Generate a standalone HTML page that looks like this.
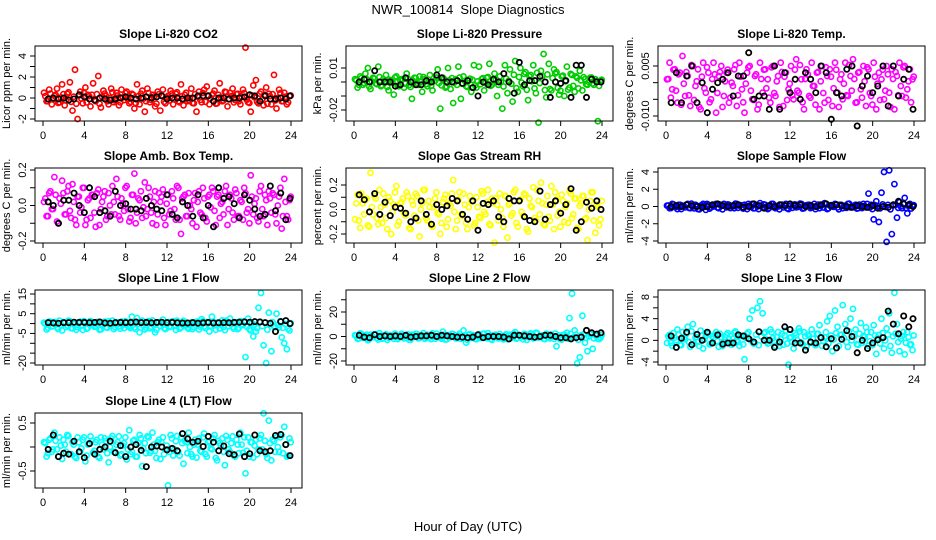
<!DOCTYPE html>
<html><head><meta charset="utf-8"><title>NWR_100814 Slope Diagnostics</title>
<style>
html,body{margin:0;padding:0;background:#fff;}
svg{display:block;font-family:"Liberation Sans",Arial,sans-serif;}
</style></head>
<body>
<svg id="chart" width="936" height="540" viewBox="0 0 936 540" xmlns="http://www.w3.org/2000/svg">
<text x="468" y="14" text-anchor="middle" font-size="13">NWR_100814&#160; Slope Diagnostics</text>
<text x="468" y="531" text-anchor="middle" font-size="13">Hour of Day (UTC)</text>
</svg>
<script>
// shared hour categories
const hoursC = [0.1,0.35,0.6,0.85,1.1,1.35,1.6,1.85,2.1,2.35,2.6,2.85,3.1,3.35,3.6,3.85,4.1,4.35,4.6,4.85,
5.1,5.35,5.6,5.85,6.1,6.35,6.6,6.85,7.1,7.35,7.6,7.85,8.1,8.35,8.6,8.85,9.1,9.35,9.6,9.85,
10.1,10.35,10.6,10.85,11.1,11.35,11.6,11.85,12.1,12.35,12.6,12.85,13.1,13.35,13.6,13.85,14.1,14.35,14.6,14.85,
15.1,15.35,15.6,15.85,16.1,16.35,16.6,16.85,17.1,17.35,17.6,17.85,18.1,18.35,18.6,18.85,19.1,19.35,19.6,19.85,
20.1,20.35,20.6,20.85,21.1,21.35,21.6,21.85,22.1,22.35,22.6,22.85,23.1,23.35,23.6,23.85];
const hoursB = [0.22,0.47,0.72,0.97,1.22,1.47,1.72,1.97,2.22,2.47,2.72,2.97,3.22,3.47,3.72,3.97,4.22,4.47,4.72,4.97,
5.22,5.47,5.72,5.97,6.22,6.47,6.72,6.97,7.22,7.47,7.72,7.97,8.22,8.47,8.72,8.97,9.22,9.47,9.72,9.97,
10.22,10.47,10.72,10.97,11.22,11.47,11.72,11.97,12.22,12.47,12.72,12.97,13.22,13.47,13.72,13.97,14.22,14.47,14.72,14.97,
15.22,15.47,15.72,15.97,16.22,16.47,16.72,16.97,17.22,17.47,17.72,17.97,18.22,18.47,18.72,18.97,19.22,19.47,19.72,19.97,
20.22,20.47,20.72,20.97,21.22,21.47,21.72,21.97,22.22,22.47,22.72,22.97,23.22,23.47,23.72,23.97];
const hoursK = [0.5,1,1.5,2,2.5,3,3.5,4,4.5,5,5.5,6,6.5,7,7.5,8,8.5,9,9.5,10,10.5,11,11.5,12,
12.5,13,13.5,14,14.5,15,15.5,16,16.5,17,17.5,18,18.5,19,19.5,20,20.5,21,21.5,22,22.5,23,23.5,23.9];
const xTicks = [0,4,8,12,16,20,24];

// Li-820 CO2
const co2Vals = [0.5,-0.3,0.8,-0.6,0.2,0.9,-0.4,1.3,-0.7,0.4,1.5,-1.2,2.7,-2.0,0.6,-0.5,1.0,0.3,-0.8,1.4,
-0.3,2.1,-0.9,0.7,0.2,-0.6,0.9,-0.4,0.5,-0.7,0.8,-0.2,0.6,-0.5,0.4,-1.0,1.3,-0.6,0.7,-1.3,
0.9,-0.4,0.3,-0.8,0.6,-1.2,0.8,-0.5,0.2,0.7,-0.6,0.4,-0.3,1.3,-0.7,0.5,-0.2,0.9,-0.5,-1.3,
0.6,-0.4,0.8,1.1,-0.6,0.3,0.7,-0.5,1.4,-0.3,0.6,-0.8,0.5,0.9,-0.2,0.4,-0.6,0.8,4.8,-0.4,
-1.3,1.2,1.7,-0.5,0.6,-0.7,1.0,0.4,-0.6,2.2,-1.0,0.8,-0.3,0.5,-0.6,0.2];
const co2Core = [0.18,-0.3,0.42,-0.12,0.3,-0.48,0.06,0.36,-0.24,0.54,-0.36,0.12,-0.54,0.24,-0.06,0.48,-0.42,0.18,0.3,-0.18,
0.36,-0.54,0.12,0.42,-0.3,0,0.54,-0.24,0.24,-0.42,0.06,0.48,-0.12,-0.36,0.3,-0.48,0.18,0.42,-0.06,-0.3,
0.48,-0.18,0.12,-0.54,0.36,0.24,-0.36,0.06,-0.24,0.42,-0.12,0.54,-0.42,0.18,0.3,-0.3,0,-0.48,0.36,0.12,
-0.18,0.48,-0.36,0.24,-0.06,0.42,-0.54,0.3,0.06,-0.24,0.54,-0.12,0.18,-0.42,0.36,-0.3,0.12,0.48,-0.18,-0.48,
0.24,0.06,-0.36,0.42,-0.12,0.3,-0.54,0.18,0.36,-0.24,0,0.48,-0.3,0.12,-0.42,0.24];
const co2Black = [-0.1,0.0,-0.1,0.0,-0.2,-0.1,0.3,0.1,
-0.1,-0.2,0.0,-0.1,-0.2,-0.1,0.0,0.1,
0.0,-0.1,0.0,0.1,0.0,0.1,0.2,-0.1,
0.0,0.0,-0.1,0.0,0.0,0.2,0.2,0.2,
-0.3,0.0,0.0,-0.1,0.0,0.0,0.1,0.3,
0.2,-0.3,0.2,-0.1,-0.1,0.0,-0.1,0.2];
const co2Ticks = [-2,-1,0,1,2,3,4];
const co2Labels = ["-2","","0","","2","","4"];

// Li-820 Pressure
const presVals = [0.002,-0.004,0.004,-0.002,0.006,0.010,-0.005,0.003,-0.001,0.011,-0.003,0.002,0.005,-0.006,0.001,-0.009,0.004,-0.003,0.002,-0.004,
0.006,-0.002,-0.012,0.003,-0.001,0.004,-0.007,0.002,-0.003,0.005,-0.006,0.001,0.009,-0.019,0.003,-0.004,0.010,-0.005,-0.015,0.002,
0.011,-0.012,0.004,-0.003,0.001,-0.007,0.012,-0.004,0.011,0.002,-0.006,0.003,0.013,-0.002,0.006,-0.010,0.004,-0.019,0.012,-0.008,
0.009,-0.014,0.015,-0.007,0.010,-0.003,0.007,-0.013,0.005,0.012,-0.008,-0.029,0.008,0.020,-0.011,0.013,-0.006,0.009,0.007,-0.009,
0.004,-0.010,0.011,-0.004,0.005,-0.007,0.003,0.008,-0.006,0.002,-0.002,0.003,-0.001,0.002,-0.028,0.001];
const presCore = [0.0012,-0.002,0.0028,-0.0008,0.002,-0.0032,0.0004,0.0024,-0.0016,0.0036,-0.0024,0.0008,-0.0036,0.0016,-0.0004,0.0032,-0.0028,0.0012,0.002,-0.0012,
0.0024,-0.0036,0.0008,0.0028,-0.002,0,0.0036,-0.0016,0.0016,-0.0028,0.0004,0.0032,-0.0008,-0.0024,0.002,-0.0032,0.0012,0.0028,-0.0004,-0.002,
0.0032,-0.0012,0.0008,-0.0036,0.0024,0.0016,-0.0024,0.0004,-0.0016,0.0028,-0.0008,0.0036,-0.0028,0.0012,0.002,-0.002,0,-0.0032,0.0024,0.0008,
-0.0012,0.0052,-0.0044,0.0036,-0.0004,0.0058,-0.0056,0.004,0.0004,-0.0046,0.0066,-0.0008,0.0042,-0.0058,0.0054,-0.005,0.0028,0.0062,-0.0042,-0.0062,
0.0046,0.0004,-0.0054,0.0058,-0.0028,0.004,-0.0046,0.0012,0.0034,-0.0016,0,0.0032,-0.002,0.0008,-0.0028,0.0016];
const presBlack = [0.000,0.002,0.000,0.008,0.000,0.000,0.000,-0.003,
-0.002,0.003,0.000,-0.002,-0.002,0.001,0.000,0.005,
0.003,0.000,0.000,0.001,-0.001,0.001,-0.004,-0.010,
0.000,-0.002,0.002,0.000,0.006,0.000,-0.008,0.014,
-0.002,0.001,0.001,0.004,0.000,-0.011,0.000,-0.001,
0.001,-0.011,0.012,0.012,-0.011,0.002,0.000,0.000];
const presTicks = [-0.02,-0.01,0,0.01];
const presLabels = ["-0.02","","","0.01"];

// Li-820 Temp
const tempVals = [0.001,0.006,-0.002,0.004,-0.006,0.003,0.008,-0.004,0.002,-0.007,0.005,-0.001,0.004,-0.008,0.006,-0.003,0.003,-0.005,0.006,-0.009,
0.002,0.005,-0.004,0.003,-0.006,0.000,0.004,-0.007,0.006,-0.002,-0.009,0.003,0.005,-0.005,0.002,-0.008,0.006,-0.003,0.004,0.001,
-0.006,0.005,-0.004,0.002,0.006,-0.007,0.003,-0.002,0.005,-0.005,0.007,-0.003,0.001,-0.008,0.004,-0.004,0.006,-0.001,0.003,-0.008,
0.005,-0.006,0.002,0.004,-0.007,0.006,-0.003,0.001,-0.005,0.006,-0.004,0.002,0.007,-0.006,0.003,-0.002,0.005,-0.007,0.004,-0.004,
0.006,-0.008,0.003,0.001,-0.005,0.005,-0.003,0.004,-0.008,0.002,0.006,-0.004,0.005,-0.002,0.004,0.001];
const tempCore = [0.0011,-0.0045,0.0039,-0.0024,0.0025,-0.0066,-0.0003,0.0032,-0.0038,0.0053,-0.0052,0.0004,-0.0073,0.0018,-0.0017,0.0046,-0.0059,0.0011,0.0025,-0.0031,
0.0032,-0.0073,0.0004,0.0039,-0.0045,-0.001,0.0053,-0.0038,0.0018,-0.0059,-0.0003,0.0046,-0.0024,-0.0052,0.0025,-0.0066,0.0011,0.0039,-0.0017,-0.0045,
0.0046,-0.0031,0.0004,-0.0073,0.0032,0.0018,-0.0052,-0.0003,-0.0038,0.0039,-0.0024,0.0053,-0.0059,0.0011,0.0025,-0.0045,-0.001,-0.0066,0.0032,0.0004,
-0.0031,0.0046,-0.0052,0.0018,-0.0017,0.0039,-0.0073,0.0025,-0.0003,-0.0038,0.0053,-0.0024,0.0011,-0.0059,0.0032,-0.0045,0.0004,0.0046,-0.0031,-0.0066,
0.0018,-0.0003,-0.0052,0.0039,-0.0024,0.0025,-0.0073,0.0011,0.0032,-0.0038,-0.001,0.0046,-0.0045,0.0004,-0.0059,0.0018];
const tempBlack = [-0.006,0.003,-0.006,0.002,0.005,-0.006,0.000,-0.009,
-0.002,0.000,0.001,0.003,-0.004,0.002,0.002,0.009,
-0.005,-0.004,-0.004,-0.008,0.005,-0.008,0.003,-0.003,
0.001,-0.005,0.003,0.001,-0.003,0.005,0.003,-0.011,
-0.003,-0.004,0.004,0.005,-0.013,-0.001,0.002,-0.003,
-0.001,0.005,-0.007,0.005,-0.004,0.001,0.004,-0.008];
const tempTicks = [-0.010,-0.005,0,0.005];
const tempLabels = ["-0.010","","","0.005"];

// Amb. Box Temp
const ambVals = [0.02,-0.06,0.07,-0.02,0.16,-0.09,0.04,0.14,-0.05,0.08,-0.03,0.12,-0.08,0.05,-0.04,0.10,-0.11,0.03,-0.07,0.06,
-0.12,0.09,-0.02,0.05,-0.08,0.07,-0.05,0.02,0.15,-0.06,0.04,-0.03,0.11,-0.09,0.06,0.18,-0.04,0.03,-0.07,0.13,
-0.02,0.05,-0.10,0.08,-0.05,0.02,0.09,-0.11,0.06,-0.03,0.04,-0.08,0.10,-0.16,0.05,-0.06,0.07,-0.02,0.03,-0.12,
0.08,-0.05,0.04,-0.09,0.06,0.10,-0.03,0.05,-0.07,0.02,0.08,-0.11,0.06,-0.04,0.09,-0.06,0.03,-0.08,0.07,-0.02,
0.17,-0.05,0.04,-0.09,0.11,-0.06,0.03,0.08,-0.04,0.06,-0.10,0.05,-0.13,0.15,-0.06,0.03];
const ambCore = [0.04,-0.06,0.08,-0.02,0.06,-0.1,0.01,0.07,-0.05,0.11,-0.07,0.02,-0.11,0.05,-0.01,0.1,-0.08,0.04,0.06,-0.04,
0.07,-0.11,0.02,0.08,-0.06,0,0.11,-0.05,0.05,-0.08,0.01,0.1,-0.02,-0.07,0.06,-0.1,0.04,0.08,-0.01,-0.06,
0.1,-0.04,0.02,-0.11,0.07,0.05,-0.07,0.01,-0.05,0.08,-0.02,0.11,-0.08,0.04,0.06,-0.06,0,-0.1,0.07,0.02,
-0.04,0.1,-0.07,0.05,-0.01,0.08,-0.11,0.06,0.01,-0.05,0.11,-0.02,0.04,-0.08,0.07,-0.06,0.02,0.1,-0.04,-0.1,
0.05,0.01,-0.07,0.08,-0.02,0.06,-0.11,0.04,0.07,-0.05,0,0.1,-0.06,0.02,-0.08,0.05];
const ambBlack = [0.02,0.00,-0.10,0.03,0.03,0.07,0.00,-0.04,
0.10,0.05,-0.04,-0.03,-0.06,0.08,0.00,0.01,
-0.02,-0.02,-0.03,0.04,0.00,-0.02,-0.03,0.06,
-0.05,-0.07,0.02,0.00,-0.06,0.06,-0.07,0.00,
-0.12,0.10,0.04,0.05,0.01,-0.07,0.06,0.03,
-0.02,-0.06,-0.05,0.11,-0.03,0.07,-0.08,0.04];
const ambTicks = [-0.2,-0.1,0,0.1,0.2];
const ambLabels = ["-0.2","","0.0","","0.2"];

// Gas Stream RH
const rhVals = [-0.08,0.12,-0.15,0.05,0.08,-0.13,0.30,-0.04,0.09,-0.12,0.02,0.13,-0.07,0.10,-0.20,0.04,0.19,-0.10,0.06,-0.03,
0.14,-0.15,0.07,-0.05,0.11,-0.22,0.05,0.16,-0.09,0.02,-0.14,0.09,-0.03,-0.20,0.06,0.12,-0.08,0.03,0.24,-0.16,
0.08,-0.04,0.13,-0.11,0.02,0.07,-0.13,0.10,-0.06,0.15,-0.02,0.06,-0.12,0.09,-0.27,0.04,0.13,-0.07,0.11,-0.23,
0.05,-0.03,0.16,-0.14,0.08,-0.05,0.12,-0.18,0.03,0.18,-0.09,0.07,0.22,-0.12,0.04,-0.06,0.19,-0.16,0.08,-0.02,
0.12,-0.10,0.05,0.15,-0.07,0.09,-0.15,0.03,0.11,-0.08,-0.25,0.07,0.14,-0.19,0.02,-0.08];
const rhCore = [0.05,-0.09,0.13,-0.04,0.09,-0.14,0.02,0.11,-0.07,0.16,-0.11,0.04,-0.16,0.07,-0.02,0.14,-0.13,0.05,0.09,-0.05,
0.11,-0.16,0.04,0.13,-0.09,0,0.16,-0.07,0.07,-0.13,0.02,0.14,-0.04,-0.11,0.09,-0.14,0.05,0.13,-0.02,-0.09,
0.14,-0.05,0.04,-0.16,0.11,0.07,-0.11,0.02,-0.07,0.13,-0.04,0.16,-0.13,0.05,0.09,-0.09,0,-0.14,0.11,0.04,
-0.05,0.14,-0.11,0.07,-0.02,0.13,-0.16,0.09,0.02,-0.07,0.16,-0.04,0.05,-0.13,0.11,-0.09,0.04,0.14,-0.05,-0.14,
0.07,0.02,-0.11,0.13,-0.04,0.09,-0.16,0.05,0.11,-0.07,0,0.14,-0.09,0.04,-0.13,0.07];
const rhBlack = [0.12,0.08,-0.02,0.13,-0.04,0.06,-0.05,0.02,
0.01,-0.03,-0.10,-0.07,0.07,-0.04,-0.12,0.04,
0.00,0.03,0.09,0.07,-0.04,-0.08,0.07,-0.17,
0.05,0.04,0.07,-0.06,-0.10,0.09,0.07,0.07,
-0.06,-0.09,-0.10,0.15,-0.08,0.04,0.07,-0.03,
0.04,0.17,-0.17,-0.10,0.06,0.01,0.07,0.00];
const rhTicks = [-0.2,-0.1,0,0.1,0.2];
const rhLabels = ["-0.2","","0.0","","0.2"];

// Sample Flow
const sfVals = [0.1,-0.2,0.3,0.0,-0.3,0.2,0.1,-0.1,0.3,-0.2,0.0,0.2,-0.3,0.1,0.3,-0.4,0.2,-0.1,0.0,0.3,
-0.2,0.1,0.3,-0.1,0.2,0.0,-0.2,0.3,0.1,-0.1,0.2,-0.3,0.1,0.3,-0.2,0.0,0.4,-0.1,0.2,-0.3,
0.1,0.3,-0.2,0.0,0.2,-0.1,0.3,-0.3,0.1,0.2,-0.1,0.0,0.3,-0.2,0.1,0.2,-0.1,0.3,0.0,-0.2,
0.2,0.4,-0.3,0.1,0.0,0.3,-0.1,0.2,-0.2,0.1,0.3,-0.1,0.0,0.2,-0.2,0.1,0.3,-0.1,1.5,0.2,
-1.5,0.6,-1.8,1.6,4.0,-4.1,4.2,-3.2,2.6,-1.3,0.5,-0.2,1.0,-0.8,0.3,0.1];
const sfCore = [0.12,-0.18,0.24,-0.06,0.18,-0.3,0.03,0.21,-0.15,0.33,-0.21,0.06,-0.33,0.15,-0.03,0.3,-0.24,0.12,0.18,-0.12,
0.21,-0.33,0.06,0.24,-0.18,0,0.33,-0.15,0.15,-0.24,0.03,0.3,-0.06,-0.21,0.18,-0.3,0.12,0.24,-0.03,-0.18,
0.3,-0.12,0.06,-0.33,0.21,0.15,-0.21,0.03,-0.15,0.24,-0.06,0.33,-0.24,0.12,0.18,-0.18,0,-0.3,0.21,0.06,
-0.12,0.3,-0.21,0.15,-0.03,0.24,-0.33,0.18,0.03,-0.15,0.33,-0.06,0.12,-0.24,0.21,-0.18,0.06,0.3,-0.12,-0.3,
0.15,0.03,-0.21,0.24,-0.06,0.18,-0.33,0.12,0.21,-0.15,0,0.3,-0.18,0.06,-0.24,0.15];
const sfBlack = [0.0,0.1,0.0,0.2,0.1,0.0,-0.1,0.0,
0.2,0.3,0.1,0.0,0.1,0.2,-0.1,0.0,
0.3,0.1,-0.2,0.1,0.0,0.2,0.1,0.3,
0.1,0.2,0.0,0.1,0.0,0.2,0.3,0.1,
0.2,0.1,0.0,-0.1,0.1,0.0,-0.1,0.1,
-0.2,0.0,-0.1,0.2,0.6,0.3,0.2,0.0];
const sfTicks = [-4,-2,0,2,4];
const sfLabels = ["-4","-2","0","2","4"];

// Line 1 Flow
const l1Vals = [0.5,-3.0,1.0,-1.5,0.8,-2.0,1.5,-3.5,0.2,-1.0,1.2,-2.5,0.6,-1.8,1.0,-3.2,0.4,-2.2,1.3,-0.8,
-1.5,0.9,-3.0,0.5,-2.0,1.1,-0.6,-2.8,0.7,-1.4,1.0,-2.3,0.3,-1.7,3.5,-2.0,2.8,-4.5,1.5,-3.0,
0.9,-2.4,1.6,-4.5,0.5,-1.2,2.0,-2.8,0.8,-1.5,1.2,-3.2,0.4,-2.0,1.4,-0.9,-2.6,0.6,-1.8,1.0,
-3.0,2.2,-1.5,0.8,-4.0,3.5,-1.0,0.5,-2.5,1.6,-3.3,0.9,2.5,-1.8,0.6,-2.8,1.2,-0.8,-17.0,2.5,
-3.5,-6.5,-4.0,8.0,15.5,-11.0,-20.0,5.5,-14.0,-1.5,5.0,-2.0,-7.0,-10.0,-13.0,-3.5];
const l1Core = [-0.1,-2.1,1.0,-1.3,0.5,-2.8,-0.6,0.7,-1.8,1.5,-2.3,-0.3,-3.1,0.2,-1.1,1.2,-2.6,-0.1,0.5,-1.6,
0.7,-3.1,-0.3,1.0,-2.1,-0.8,1.5,-1.8,0.2,-2.6,-0.6,1.2,-1.3,-2.3,0.5,-2.8,-0.1,1.0,-1.1,-2.1,
1.2,-1.6,-0.3,-3.1,0.7,0.2,-2.3,-0.6,-1.8,1.0,-1.3,1.5,-2.6,-0.1,0.5,-2.1,-0.8,-2.8,0.7,-0.3,
-1.6,1.2,-2.3,0.2,-1.1,1.0,-3.1,0.5,-0.6,-1.8,1.5,-1.3,-0.1,-2.6,0.7,-2.1,-0.3,1.2,-1.6,-2.8,
0.2,-0.6,-2.3,1.0,-1.3,0.5,-3.1,-0.1,0.7,-1.8,-0.8,1.2,-2.1,-0.3,-2.6,0.2];
const l1Black = [0.5,0.3,0.2,0.5,0.5,0.7,0.6,0.6,
0.5,0.6,0.8,0.3,0.2,0.5,0.6,0.5,
0.6,0.8,0.5,0.6,0.4,0.6,0.7,0.5,
0.6,0.4,0.3,0.3,0.5,0.2,0.4,0.6,
0.3,0.4,0.5,0.4,0.6,0.7,0.8,0.7,
1.0,0.8,0.5,0.2,-4.0,1.0,1.5,0.0];
const l1Ticks = [-20,-15,-10,-5,0,5,10,15];
const l1Labels = ["-20","","","-5","","5","","15"];

// Line 2 Flow
const l2Vals = [1.0,-2.0,2.5,-1.0,0.5,-3.0,1.5,-0.5,2.0,-2.5,0.8,-1.5,1.8,-1.0,0.3,-2.0,1.2,-0.8,2.2,-1.5,
0.6,-2.8,1.5,-0.3,2.0,-1.2,0.9,-2.0,1.4,-0.7,2.5,-1.8,0.4,-1.0,4.0,-2.5,1.2,-0.5,2.0,-1.5,
0.8,-2.0,5.0,-5.0,1.6,-1.0,0.5,-2.2,1.8,-0.6,2.4,-1.4,0.7,-2.8,1.2,-0.4,2.0,-1.6,0.9,-2.2,
1.5,-0.8,3.5,-1.2,0.6,-2.4,1.8,-0.5,2.5,-1.5,3.0,-0.9,0.4,-1.8,2.2,-0.6,1.6,-2.0,-8.0,0.9,
-2.5,1.5,3.0,15.0,35.0,5.0,-22.0,-17.0,17.0,-5.0,-12.0,2.0,-10.0,1.0,-2.0,-1.0];
const l2Core = [0.9,-1.5,2.1,-0.6,1.5,-2.4,0.3,1.8,-1.2,2.7,-1.8,0.6,-2.7,1.2,-0.3,2.4,-2.1,0.9,1.5,-0.9,
1.8,-2.7,0.6,2.1,-1.5,0,2.7,-1.2,1.2,-2.1,0.3,2.4,-0.6,-1.8,1.5,-2.4,0.9,2.1,-0.3,-1.5,
2.4,-0.9,0.6,-2.7,1.8,1.2,-1.8,0.3,-1.2,2.1,-0.6,2.7,-2.1,0.9,1.5,-1.5,0,-2.4,1.8,0.6,
-0.9,2.4,-1.8,1.2,-0.3,2.1,-2.7,1.5,0.3,-1.2,2.7,-0.6,0.9,-2.1,1.8,-1.5,0.6,2.4,-0.9,-2.4,
1.2,0.3,-1.8,2.1,-0.6,1.5,-2.7,0.9,1.8,-1.2,0,2.4,-1.5,0.6,-2.1,1.2];
const l2Black = [1.0,-0.5,-1.0,1.5,0.0,0.5,0.0,0.5,
0.0,1.0,-0.5,0.0,0.5,0.5,1.0,0.0,
1.0,0.5,0.0,-0.5,-0.5,-1.0,-0.5,1.5,
-1.0,0.0,0.0,0.0,-0.5,-2.0,1.0,1.0,
0.5,0.0,-0.5,0.0,1.0,1.0,0.0,-1.0,
-1.0,-2.0,-1.0,-0.5,5.0,3.0,2.0,3.0];
const l2Ticks = [-20,-10,0,10,20,30];
const l2Labels = ["-20","","0","","20",""];

// Line 3 Flow
const l3Vals = [-0.5,1.0,-1.0,0.5,2.0,-0.8,1.5,0.2,2.5,-1.2,3.0,0.5,-0.3,1.8,-1.5,0.8,1.2,-0.6,0.4,1.5,
-1.2,0.6,-0.4,1.0,0.2,-0.8,1.4,0.0,-1.0,0.8,-3.5,1.2,4.0,5.5,-0.5,6.0,7.2,5.0,1.5,-0.6,
2.0,0.4,-1.0,1.5,0.2,-0.8,1.8,-4.5,0.6,-1.5,1.0,2.2,-0.4,1.5,-1.2,0.8,2.0,-0.6,1.2,2.8,
-1.0,0.5,3.5,4.5,-2.0,5.5,2.5,1.0,6.5,3.0,-1.2,4.0,5.8,2.0,-0.8,3.2,0.8,2.4,-1.0,1.5,
2.8,-2.5,1.0,4.0,-1.5,2.2,5.0,-2.3,8.8,3.0,-2.0,0.8,-2.6,1.5,-0.8,-1.8];
const l3Core = [0.75,-0.45,1.35,0,1.05,-0.9,0.45,1.2,-0.3,1.65,-0.6,0.6,-1.05,0.9,0.15,1.5,-0.75,0.75,1.05,-0.15,
1.2,-1.05,0.6,1.35,-0.45,0.3,1.65,-0.3,0.9,-0.75,0.45,1.5,0,-0.6,1.05,-0.9,0.75,1.35,0.15,-0.45,
1.5,-0.15,0.6,-1.05,1.2,0.9,-0.6,0.45,-0.3,1.35,0,1.65,-0.75,0.75,1.05,-0.45,0.3,-0.9,1.2,0.6,
-0.15,1.5,-0.6,0.9,0.15,1.35,-1.05,1.05,0.45,-0.3,1.65,0,0.75,-0.75,1.2,-0.45,0.6,1.5,-0.15,-0.9,
0.9,0.45,-0.6,1.35,0,1.05,-1.05,0.75,1.2,-0.3,0.3,1.5,-0.45,0.6,-0.75,0.9];
const l3Black = [0.8,-1.3,0.4,1.5,-0.8,1.1,0.0,1.5,
-0.5,1.0,-0.7,-0.5,-0.5,1.0,0.8,0.3,
-0.3,1.6,0.0,0.0,-1.3,-0.3,2.5,2.0,
-0.5,-0.5,-1.8,-0.3,-0.5,0.5,-1.2,0.3,
-1.4,0.2,1.8,0.7,-2.3,0.0,-1.5,-0.5,
0.1,0.5,5.4,3.0,1.2,4.5,2.5,4.0];
const l3Ticks = [-4,-2,0,2,4,6,8];
const l3Labels = ["-4","","0","","4","","8"];

// Line 4 (LT) Flow
const l4Vals = [0.1,-0.2,0.15,-0.1,0.3,-0.05,0.2,-0.25,0.05,0.25,-0.15,0.1,-0.2,0.2,-0.1,0.15,-0.3,0.05,0.22,-0.12,
0.1,-0.2,0.2,-0.05,0.12,-0.32,0.18,-0.1,0.05,0.22,-0.15,0.08,-0.26,0.35,-0.1,0.15,-0.2,0.25,-0.4,0.08,
0.22,-0.12,0.3,-0.08,0.1,-0.25,0.2,-0.05,-0.8,0.25,-0.18,0.12,-0.1,0.2,-0.35,0.1,0.3,-0.15,0.05,-0.22,
0.18,-0.1,0.28,-0.2,0.12,-0.05,0.25,-0.28,0.08,0.18,-0.38,0.15,-0.1,0.22,-0.2,0.05,0.3,-0.12,-0.55,0.2,
0.1,-0.22,0.15,-0.05,0.25,0.7,-0.15,0.55,-0.28,0.12,0.2,-0.1,0.25,0.42,-0.2,0.18];
const l4Core = [0.08,-0.13,0.18,-0.05,0.13,-0.2,0.03,0.15,-0.1,0.23,-0.15,0.05,-0.23,0.1,-0.03,0.2,-0.18,0.08,0.13,-0.08,
0.15,-0.23,0.05,0.18,-0.13,0,0.23,-0.1,0.1,-0.18,0.03,0.2,-0.05,-0.15,0.13,-0.2,0.08,0.18,-0.03,-0.13,
0.2,-0.08,0.05,-0.23,0.15,0.1,-0.15,0.03,-0.1,0.18,-0.05,0.23,-0.18,0.08,0.13,-0.13,0,-0.2,0.15,0.05,
-0.08,0.2,-0.15,0.1,-0.03,0.18,-0.23,0.13,0.03,-0.1,0.23,-0.05,0.08,-0.18,0.15,-0.13,0.05,0.2,-0.08,-0.2,
0.1,0.03,-0.15,0.18,-0.05,0.13,-0.23,0.08,0.15,-0.1,0,0.2,-0.13,0.05,-0.18,0.1];
const l4Black = [-0.05,0.25,-0.2,-0.13,-0.15,0.12,-0.1,-0.22,
0.07,-0.15,-0.05,0.0,0.12,-0.12,0.03,-0.2,
0.0,0.05,-0.07,-0.41,0.0,0.02,0.0,-0.06,
-0.03,-0.08,0.28,0.17,0.1,0.12,0.01,0.22,
0.1,-0.08,0.02,-0.14,-0.16,0.27,-0.2,-0.14,
0.25,-0.08,-0.1,-0.08,0.24,0.26,0.05,-0.18];
const l4Ticks = [-0.5,0,0.5];
const l4Labels = ["-0.5","","0.5"];

const colLeft = [35, 346, 658];
const rowTop = [46, 168, 290, 413];
const BOX_W = 267, BOX_H = 75;

const panels = [
 {name:"co2", title:"Slope Li-820 CO2", ylab:"Licor ppm per min.", c:0, r:0, color:"#ff0000", vals:co2Vals, core:co2Core, blk:co2Black, ticks:co2Ticks, labels:co2Labels, v1:4, p1:56, v2:-2, p2:119},
 {name:"pressure", title:"Slope Li-820 Pressure", ylab:"kPa per min.", c:1, r:0, color:"#00cd00", vals:presVals, core:presCore, blk:presBlack, ticks:presTicks, labels:presLabels, v1:0.01, p1:68, v2:-0.02, p2:110},
 {name:"temp", title:"Slope Li-820 Temp.", ylab:"degrees C per min.", c:2, r:0, color:"#ff00ff", vals:tempVals, core:tempCore, blk:tempBlack, ticks:tempTicks, labels:tempLabels, v1:0.005, p1:66, v2:-0.010, p2:116},
 {name:"amb-box-temp", title:"Slope Amb. Box Temp.", ylab:"degrees C per min.", c:0, r:1, color:"#ff00ff", vals:ambVals, core:ambCore, blk:ambBlack, ticks:ambTicks, labels:ambLabels, v1:0.2, p1:170, v2:-0.2, p2:241},
 {name:"gas-rh", title:"Slope Gas Stream RH", ylab:"percent per min.", c:1, r:1, color:"#ffff00", vals:rhVals, core:rhCore, blk:rhBlack, ticks:rhTicks, labels:rhLabels, v1:0.2, p1:185, v2:-0.2, p2:234},
 {name:"sample-flow", title:"Slope Sample Flow", ylab:"ml/min per min.", c:2, r:1, color:"#0000ff", vals:sfVals, core:sfCore, blk:sfBlack, ticks:sfTicks, labels:sfLabels, v1:4, p1:172, v2:-4, p2:241},
 {name:"line1-flow", title:"Slope Line 1 Flow", ylab:"ml/min per min.", c:0, r:2, color:"#00ffff", vals:l1Vals, core:l1Core, blk:l1Black, ticks:l1Ticks, labels:l1Labels, v1:15, p1:294, v2:-20, p2:363},
 {name:"line2-flow", title:"Slope Line 2 Flow", ylab:"ml/min per min.", c:1, r:2, color:"#00ffff", vals:l2Vals, core:l2Core, blk:l2Black, ticks:l2Ticks, labels:l2Labels, v1:20, p1:312, v2:-20, p2:361},
 {name:"line3-flow", title:"Slope Line 3 Flow", ylab:"ml/min per min.", c:2, r:2, color:"#00ffff", vals:l3Vals, core:l3Core, blk:l3Black, ticks:l3Ticks, labels:l3Labels, v1:8, p1:297, v2:-4, p2:362},
 {name:"line4-flow", title:"Slope Line 4 (LT) Flow", ylab:"ml/min per min.", c:0, r:3, color:"#00ffff", vals:l4Vals, core:l4Core, blk:l4Black, ticks:l4Ticks, labels:l4Labels, v1:0.5, p1:423, v2:-0.5, p2:471}
];

const NS = "http://www.w3.org/2000/svg";
const svg = document.getElementById("chart");
function mk(tag, attrs, parent){
  const e = document.createElementNS(NS, tag);
  for (const k in attrs) e.setAttribute(k, attrs[k]);
  (parent||svg).appendChild(e);
  return e;
}

panels.forEach(p => {
  const L = colLeft[p.c], T = rowTop[p.r], R = L + BOX_W, B = T + BOX_H;
  const x0 = L + 8, x1 = R - 11;
  const xs = h => x0 + (h / 24) * (x1 - x0);
  const ys = v => p.p1 + (v - p.v1) * (p.p2 - p.p1) / (p.v2 - p.v1);

  const g = mk("g", {});
  
  

  const t = mk("text", {x:(L+R)/2, y:T-8, "text-anchor":"middle", "font-size":"12", "font-weight":"bold"}, g);
  t.textContent = p.title;
  
  

  const pts = mk("g", {}, g);
  
  
  const nc = Math.min(p.core.length, hoursB.length);
  for (let i = 0; i < nc; i++) {
    const c = mk("circle", {cx:xs(hoursB[i]).toFixed(1), cy:ys(p.core[i]).toFixed(1), r:2.6, fill:"none", stroke:p.color, "stroke-width":1.6}, pts);
    
    
  }
  const n = Math.min(p.vals.length, hoursC.length);
  for (let i = 0; i < n; i++) {
    const c = mk("circle", {cx:xs(hoursC[i]).toFixed(1), cy:ys(p.vals[i]).toFixed(1), r:2.6, fill:"none", stroke:p.color, "stroke-width":1.6}, pts);
    
    
  }
  const bk = mk("g", {}, g);
  
  
  const m = Math.min(p.blk.length, hoursK.length);
  for (let i = 0; i < m; i++) {
    const c = mk("circle", {cx:xs(hoursK[i]).toFixed(1), cy:ys(p.blk[i]).toFixed(1), r:2.6, fill:"none", stroke:"#000", "stroke-width":1.8}, bk);
    
    
  }

  const box = mk("rect", {x:L, y:T, width:BOX_W, height:BOX_H, fill:"none", stroke:"#000", "stroke-width":1}, g);
  
  

  const xa = mk("g", {}, g);
  
  
  xTicks.forEach(h => {
    const x = xs(h);
    mk("line", {x1:x, y1:B, x2:x, y2:B+5, stroke:"#000"}, xa);
    const lt = mk("text", {x:x, y:B+18, "text-anchor":"middle", "font-size":"11"}, xa);
    lt.textContent = String(h);
    
    
  });

  const ya = mk("g", {}, g);
  
  
  p.ticks.forEach((v, i) => {
    const y = ys(v);
    mk("line", {x1:L-5, y1:y, x2:L, y2:y, stroke:"#000"}, ya);
    if (p.labels[i]) {
      const lx = L - 9;
      const lt = mk("text", {x:lx, y:y, "text-anchor":"middle", "font-size":"11", transform:`rotate(-90 ${lx} ${y})`}, ya);
      lt.textContent = p.labels[i];
      
      
    }
  });
  const yx = L - 25, yy = (T + B) / 2;
  const yl = mk("text", {x:yx, y:yy, "text-anchor":"middle", "font-size":"11", transform:`rotate(-90 ${yx} ${yy})`}, g);
  yl.textContent = p.ylab;
  
  
});
</script>
</body></html>
